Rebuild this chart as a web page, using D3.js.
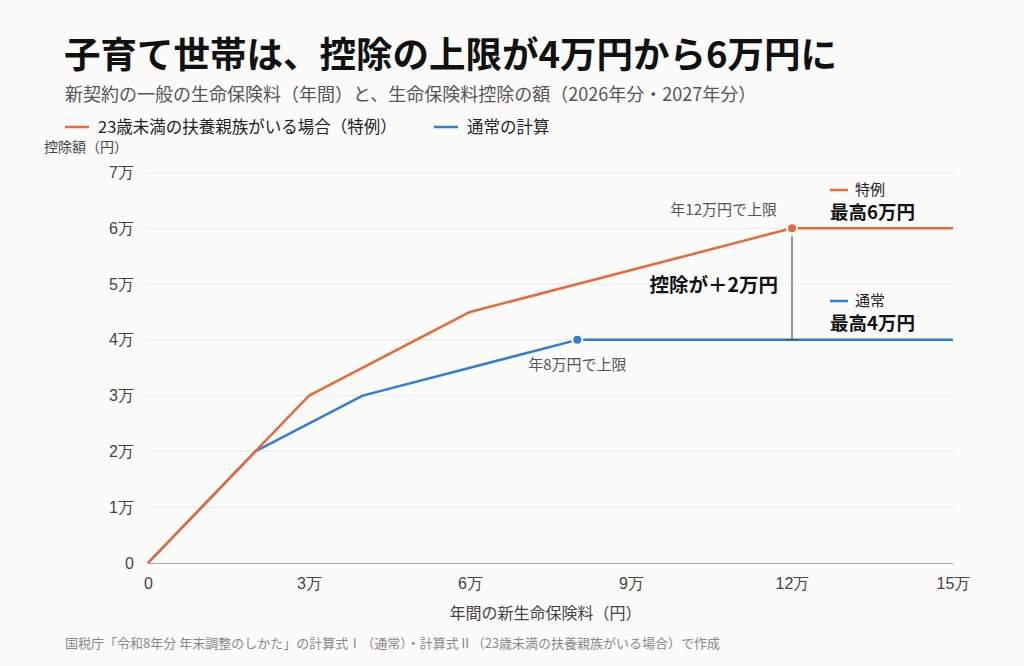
<!DOCTYPE html>
<html>
<head>
<meta charset="UTF-8">
<title>生命保険料控除</title>
<style>
  body { margin: 0; background: #fbfbf9; }
  svg { display: block; font-family: "Noto Sans CJK JP", "Noto Sans", sans-serif; }
  .grid line { stroke: #e8e8e6; stroke-width: 1px; }
  .tick text { fill: #444; font-size: 16px; }
</style>
<script src="https://d3js.org/d3.v7.min.js"></script>
</head>
<body>
<svg width="1024" height="666"></svg>
<script>
// data
var xTicks = [0, 30000, 60000, 90000, 120000, 150000];
var yTicks = [0, 10000, 20000, 30000, 40000, 50000, 60000, 70000];
var specialX = [0, 30000, 60000, 120000, 150000];
var specialY = [0, 30000, 45000, 60000, 60000];
var normalX = [0, 20000, 40000, 80000, 150000];
var normalY = [0, 20000, 30000, 40000, 40000];
var specialCap = [120000, 60000];
var normalCap = [80000, 40000];

var orange = "#ec6836", blue = "#2f7fd8";

var svg = d3.select("svg");
var x = d3.scaleLinear().domain([0, 150000]).range([148, 953]);
var y = d3.scaleLinear().domain([0, 70000]).range([563, 172.5]);
var fmt = function(v) { return v === 0 ? "0" : (v / 10000) + "万"; };

// titles
svg.append("text").attr("x", 64).attr("y", 68)
  .attr("font-size", 36.5).attr("font-weight", "bold").attr("fill", "#111")
  .text("子育て世帯は、控除の上限が4万円から6万円に");
svg.append("text").attr("x", 65).attr("y", 101)
  .attr("font-size", 18).attr("fill", "#555")
  .text("新契約の一般の生命保険料（年間）と、生命保険料控除の額（2026年分・2027年分）");

// legend
var legend = [
  {label: "23歳未満の扶養親族がいる場合（特例）", color: orange, x: 65},
  {label: "通常の計算", color: blue, x: 434}
];
legend.forEach(function(d) {
  svg.append("line").attr("x1", d.x).attr("x2", d.x + 24).attr("y1", 127).attr("y2", 127)
    .attr("stroke", d.color).attr("stroke-width", 2.5);
  svg.append("text").attr("x", d.x + 33).attr("y", 133)
    .attr("font-size", 16.5).attr("fill", "#222").text(d.label);
});

svg.append("text").attr("x", 44).attr("y", 152)
  .attr("font-size", 14).attr("fill", "#444").text("控除額（円）");

// grid + y axis
var yAxis = d3.axisLeft(y).tickValues(yTicks).tickFormat(fmt).tickSize(0).tickPadding(14);
var gy = svg.append("g").attr("transform", "translate(148,0)").call(yAxis);
gy.select(".domain").remove();
svg.append("g").attr("class", "grid").selectAll("line")
  .data(yTicks.filter(function(v) { return v > 0; }))
  .join("line")
  .attr("x1", x(0)).attr("x2", x(150000))
  .attr("y1", function(d) { return y(d); }).attr("y2", function(d) { return y(d); });

// x axis
var xAxis = d3.axisBottom(x).tickValues(xTicks).tickFormat(fmt).tickSize(0).tickPadding(15);
var gx = svg.append("g").attr("transform", "translate(0," + y(0) + ")").call(xAxis);
gx.select(".domain").attr("stroke", "#aaa").attr("stroke-width", 1.2);

svg.append("text").attr("x", (x(0) + x(150000)) / 2 - 5).attr("y", 619)
  .attr("text-anchor", "middle").attr("font-size", 16).attr("fill", "#444")
  .text("年間の新生命保険料（円）");

// lines
var line = d3.line().x(function(d) { return x(d[0]); }).y(function(d) { return y(d[1]); });
svg.append("path").datum(d3.zip(normalX, normalY)).attr("d", line)
  .attr("fill", "none").attr("stroke", blue).attr("stroke-width", 2.5).attr("stroke-linejoin", "round");
svg.append("path").datum(d3.zip(specialX, specialY)).attr("d", line)
  .attr("fill", "none").attr("stroke", orange).attr("stroke-width", 2.5).attr("stroke-linejoin", "round");

// difference bracket
svg.append("line").attr("x1", x(specialCap[0])).attr("x2", x(specialCap[0]))
  .attr("y1", y(specialCap[1]) + 8).attr("y2", y(normalCap[1]))
  .attr("stroke", "#555").attr("stroke-width", 1.2);
svg.append("line").attr("x1", x(specialCap[0]) - 6).attr("x2", x(specialCap[0]) + 6)
  .attr("y1", y(normalCap[1])).attr("y2", y(normalCap[1]))
  .attr("stroke", "#555").attr("stroke-width", 1.2);
svg.append("text").attr("x", x(specialCap[0]) - 14).attr("y", 292)
  .attr("text-anchor", "end").attr("font-size", 19.5).attr("font-weight", "bold").attr("fill", "#111")
  .text("控除が＋2万円");

// cap dots
[[specialCap, orange], [normalCap, blue]].forEach(function(d) {
  svg.append("circle").attr("cx", x(d[0][0])).attr("cy", y(d[0][1])).attr("r", 5)
    .attr("fill", d[1]).attr("stroke", "#fbfbf9").attr("stroke-width", 2);
});
svg.append("text").attr("x", x(specialCap[0]) - 15).attr("y", 215)
  .attr("text-anchor", "end").attr("font-size", 15).attr("fill", "#555").text("年12万円で上限");
svg.append("text").attr("x", x(normalCap[0])).attr("y", 370)
  .attr("text-anchor", "middle").attr("font-size", 15).attr("fill", "#555").text("年8万円で上限");

// right-side labels
var side = [
  {name: "特例", max: "最高6万円", color: orange, y: 190},
  {name: "通常", max: "最高4万円", color: blue, y: 301}
];
side.forEach(function(d) {
  svg.append("line").attr("x1", 830).attr("x2", 848).attr("y1", d.y).attr("y2", d.y)
    .attr("stroke", d.color).attr("stroke-width", 2.5);
  svg.append("text").attr("x", 855).attr("y", d.y + 5)
    .attr("font-size", 15).attr("fill", "#222").text(d.name);
  svg.append("text").attr("x", 830).attr("y", d.y + 29)
    .attr("font-size", 18.5).attr("font-weight", "bold").attr("fill", "#111").text(d.max);
});

// source
svg.append("text").attr("x", 65).attr("y", 648)
  .attr("font-size", 13).attr("fill", "#888")
  .text("国税庁「令和8年分 年末調整のしかた」の計算式Ⅰ（通常）・計算式Ⅱ（23歳未満の扶養親族がいる場合）で作成");
</script>
</body>
</html>
